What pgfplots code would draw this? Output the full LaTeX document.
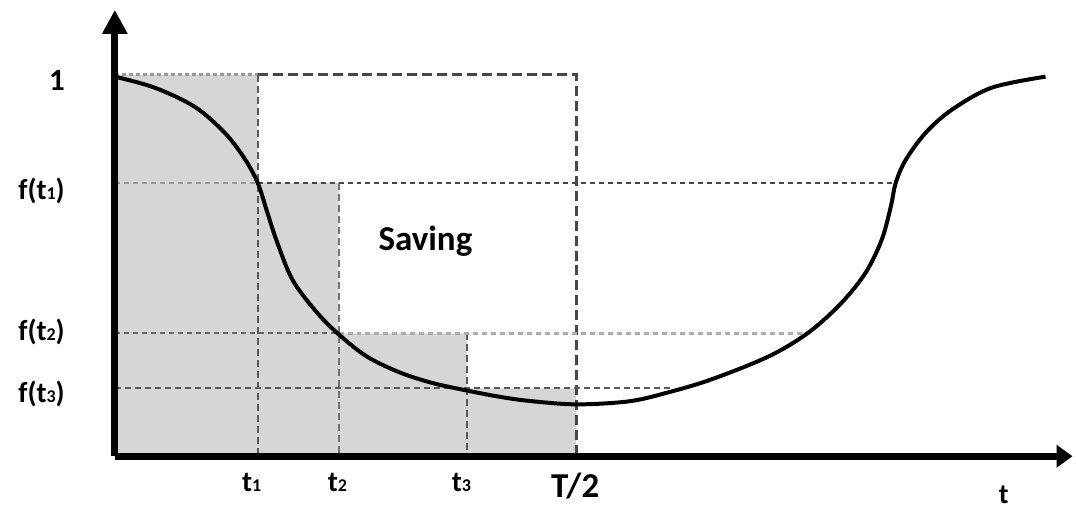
\documentclass[border=0pt]{standalone}
\usepackage{pgfplots}
\pgfplotsset{compat=1.18}
\usepackage{fontspec}
\setmainfont{Carlito}
\usetikzlibrary{arrows.meta}
\newcommand{\sub}[1]{{\fontsize{18}{18}\selectfont #1}}
\begin{document}
\begin{tikzpicture}
\begin{axis}[
  x=1pt, y=382pt,
  xmin=0, xmax=959, ymin=0, ymax=1.17,
  axis lines=left,
  axis on top=true,
  clip=false,
  axis line style={line width=7pt},
  x axis line style={-{Triangle[length=16pt,width=22pt]}},
  y axis line style={-{Triangle[length=24pt,width=24pt]}},
  major tick length=0pt,
  xtick={137,223,347,461},
  xticklabels={{t\sub{1}},{t\sub{2}},{t\sub{3}},{\fontsize{35}{35}\selectfont T/2}},
  ytick={0.162,0.325,0.696,0.984},
  yticklabels={{f(t\sub{3})},{f(t\sub{2})},{f(t\sub{1})},{\fontsize{31}{31}\selectfont 1}},
  ticklabel style={font=\bfseries\fontsize{29}{29}\selectfont},
  xticklabel style={anchor=north, inner sep=0pt, yshift=-17pt},
  yticklabel style={anchor=east, inner sep=0pt, xshift=-50pt},
]
% bounding box
\path (axis cs:-115,1.196) rectangle (axis cs:961,-0.1387);
% shaded step area
\addplot[fill=gray!32, draw=none] coordinates {(0,0) (0,1) (143,1) (143,0.717) (224,0.717) (224,0.322) (353,0.322) (353,0.178) (462,0.178) (462,0)} -- cycle;
% dashed rectangle (top and T/2)
\addplot[black!72, line width=2.6pt, dash pattern=on 10pt off 5pt] coordinates {(143,1) (462,1) (462,0)};
\addplot[gray!80, line width=2.6pt, dash pattern=on 4pt off 3pt] coordinates {(0,1) (143,1)};
% vertical lines
\addplot[black!65, line width=2pt, dash pattern=on 7pt off 4pt] coordinates {(143,1) (143,0)};
\addplot[black!55, line width=2pt, dash pattern=on 7pt off 4pt] coordinates {(224,0.717) (224,0)};
\addplot[black!65, line width=2pt, dash pattern=on 7pt off 4pt] coordinates {(353,0.322) (353,0)};
% horizontal lines
\addplot[gray!80, line width=2pt, dash pattern=on 5pt off 4pt] coordinates {(0,0.717) (143,0.717)};
\addplot[black!72, line width=2pt, dash pattern=on 5pt off 4pt] coordinates {(143,0.717) (782,0.717)};
\addplot[black!60, line width=2pt, dash pattern=on 5pt off 4pt] coordinates {(0,0.322) (224,0.322)};
\addplot[gray!65, line width=2.4pt, dash pattern=on 5pt off 4pt] coordinates {(224,0.322) (692,0.322)};
\addplot[black!65, line width=2pt, dash pattern=on 6pt off 4pt] coordinates {(0,0.178) (560,0.178)};
% curve
\addplot[black, line width=4pt, smooth, tension=0.55] coordinates {
(0,0.995) (40,0.966) (80,0.916) (110,0.848) (130,0.780)
(143,0.717) (152,0.645) (162,0.565) (178,0.462) (202,0.378)
(224,0.320) (252,0.262) (285,0.220) (318,0.192) (353,0.172) (385,0.156)
(415,0.145) (462,0.136) (515,0.144) (555,0.168) (598,0.202) (655,0.262)
(695,0.325) (728,0.403) (752,0.482) (768,0.568) (777,0.654) (782,0.717)
(792,0.777) (812,0.848) (838,0.908) (878,0.966) (932,0.995)};
\node[font=\bfseries\fontsize{35}{35}\selectfont] at (axis cs:311,0.565) {Saving};
\node[font=\bfseries\fontsize{28}{28}\selectfont] at (axis cs:890,-0.102) {t};
\end{axis}
\end{tikzpicture}
\end{document}
